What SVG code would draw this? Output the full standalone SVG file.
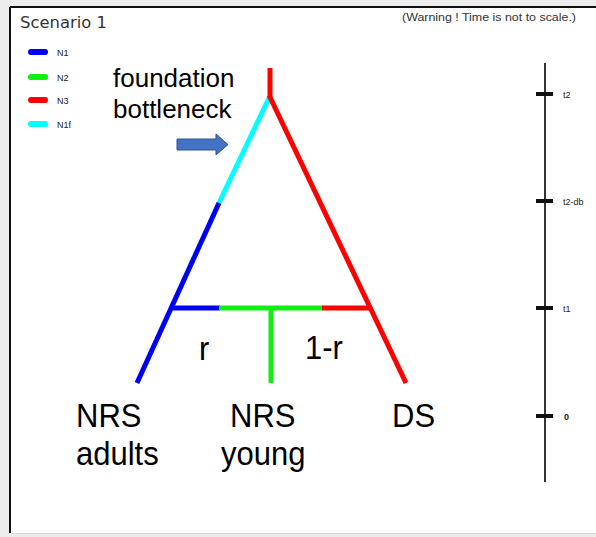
<svg xmlns="http://www.w3.org/2000/svg" width="596" height="537" viewBox="0 0 596 537">
<style>
.br{fill:none;stroke-width:5;stroke-linecap:butt}
.blue{stroke:#0000f0}.green{stroke:#10f010}.red{stroke:#ff0000}.cyan{stroke:#00ffff}
.big{font-family:"Liberation Sans",Arial,sans-serif;fill:#000}
.lab{font-family:"Liberation Sans",Arial,sans-serif;fill:#000;font-size:31px}
.small{font-family:"Liberation Sans",Arial,sans-serif;fill:#222;font-size:9px}
.tick{stroke:#111;stroke-width:4}
.leg{stroke-width:6;stroke-linecap:round}
</style>
<rect x="0" y="0" width="596" height="537" fill="#ededed"/>
<rect x="10" y="7" width="586" height="526" fill="#ffffff"/>
<line x1="10" y1="7" x2="596" y2="7" stroke="#111" stroke-width="2"/>
<line x1="10" y1="7" x2="10" y2="533" stroke="#111" stroke-width="2"/>
<line x1="10" y1="533.5" x2="596" y2="533.5" stroke="#d8d8d8" stroke-width="1"/>
<g id="title">
<text x="20" y="28" font-family="'DejaVu Sans',sans-serif" font-size="16.5" fill="#333" textLength="87" lengthAdjust="spacingAndGlyphs">Scenario 1</text>
<text x="402" y="21" font-family="'Liberation Sans',Arial,sans-serif" font-size="10" fill="#333" textLength="174" lengthAdjust="spacingAndGlyphs">(Warning ! Time is not to scale.)</text>
</g>
<g id="legend">
<line class="leg blue" x1="31" y1="52" x2="45" y2="52"/>
<line class="leg green" x1="31" y1="77" x2="45" y2="77"/>
<line class="leg red" x1="31" y1="100" x2="45" y2="100"/>
<line class="leg cyan" x1="31" y1="124" x2="45" y2="124"/>
<text class="small" x="57" y="56">N1</text>
<text class="small" x="57" y="81">N2</text>
<text class="small" x="57" y="104">N3</text>
<text class="small" x="57" y="128">N1f</text>
</g>
<g id="connectors">
<line class="br red" x1="270" y1="68" x2="270" y2="97"/>
<line class="br cyan" x1="270" y1="96" x2="218" y2="205"/>
<line class="br blue" x1="219" y1="203" x2="137" y2="383"/>
<line class="br red" x1="269" y1="95" x2="406" y2="383"/>
<line class="br blue" x1="172" y1="308" x2="220" y2="308"/>
<line class="br green" x1="219" y1="308" x2="323" y2="308"/>
<line class="br red" x1="322" y1="308" x2="372" y2="308"/>
<line class="br green" x1="271" y1="308" x2="271" y2="383"/>
</g>
<g id="bottleneck-arrow">
<path d="M177,139 H216 V134 L228,144.5 L216,155 V150 H177 Z" fill="#4472c4" stroke="#2f528f" stroke-width="1"/>
</g>
<g id="bottleneck-label">
<text class="big" x="113" y="87" font-size="26">foundation</text>
<text class="big" x="113" y="118" font-size="26">bottleneck</text>
</g>
<g id="rate-labels">
<text class="lab" transform="translate(199,360) scale(1,1.1)">r</text>
<text class="lab" transform="translate(305,359) scale(1,1.1)">1-r</text>
</g>
<g id="pop-NRS-adults">
<text class="lab" transform="translate(76,427) scale(1,1.08)">NRS</text>
<text class="lab" transform="translate(76,465) scale(1,1.08)">adults</text>
</g>
<g id="pop-NRS-young">
<text class="lab" transform="translate(230,427) scale(1,1.08)">NRS</text>
<text class="lab" transform="translate(221,465) scale(1,1.08)">young</text>
</g>
<g id="pop-DS">
<text class="lab" transform="translate(392,427) scale(1,1.08)">DS</text>
</g>
<g id="timeline">
<line x1="545" y1="63" x2="545" y2="482" stroke="#333" stroke-width="2"/>
<line class="tick" x1="536" y1="94" x2="553" y2="94"/>
<line class="tick" x1="536" y1="201" x2="553" y2="201"/>
<line class="tick" x1="536" y1="308" x2="553" y2="308"/>
<line class="tick" x1="536" y1="416" x2="553" y2="416"/>
<text class="small" x="563" y="98">t2</text>
<text class="small" x="563" y="205">t2-db</text>
<text class="small" x="563" y="312">t1</text>
<text class="small" x="564" y="420" font-weight="bold">0</text>
</g>
</svg>
